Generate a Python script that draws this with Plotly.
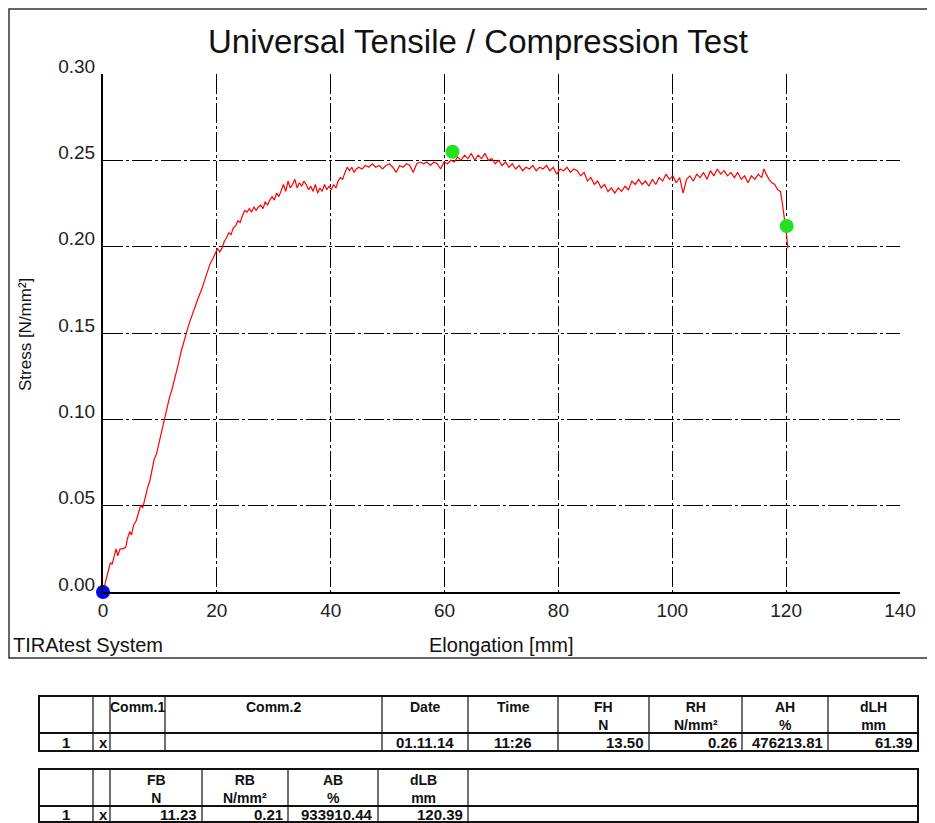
import plotly.graph_objects as go

# ---------------- data ----------------
elongation = [
    0.0, 0.5, 1.0, 1.3, 1.6, 2.0, 2.3, 2.6, 3.0, 3.5, 4.0, 4.3, 4.7, 5.0, 5.4, 5.8, 6.2, 6.6, 7.0, 7.4,
    7.8, 8.2, 8.6, 9.0, 9.4, 9.8, 10.2, 10.6, 10.9, 11.3, 11.7, 12.1, 12.5, 12.9, 13.3, 13.7, 14.1, 14.5, 14.9, 15.3,
    15.8, 16.3, 16.8, 17.3, 17.8, 18.3, 18.8, 19.3, 19.7, 20.1, 20.5, 20.9, 21.3, 21.7, 22.1, 22.5, 22.9, 23.3, 23.7, 24.1,
    24.5, 24.9, 25.3, 25.7, 26.1, 26.5, 26.9, 27.3, 27.7, 28.1, 28.5, 28.9, 29.3, 29.7, 30.1, 30.5, 30.9, 31.3, 31.7, 32.1,
    32.5, 32.9, 33.3, 33.7, 34.1, 34.5, 34.9, 35.3, 35.7, 36.1, 36.5, 36.9, 37.3, 37.7, 38.1, 38.5, 38.9, 39.3, 39.7, 40.1,
    40.5, 40.9, 41.3, 41.7, 42.1, 42.5, 42.9, 43.3, 43.7, 44.1, 44.5, 44.9, 45.5, 46.1, 46.7, 47.3, 47.9, 48.5, 49.1, 49.7,
    50.3, 50.9, 51.5, 52.1, 52.7, 53.3, 53.9, 54.5, 55.1, 55.7, 56.3, 56.9, 57.5, 58.1, 58.7, 59.3, 59.9, 60.5, 61.1, 61.7,
    62.3, 62.9, 63.5, 64.1, 64.7, 65.3, 65.9, 66.5, 67.1, 67.7, 68.3, 68.9, 69.5, 70.1, 70.7, 71.3, 71.9, 72.5, 73.1, 73.7,
    74.3, 74.9, 75.5, 76.1, 76.7, 77.3, 77.9, 78.5, 79.1, 79.7, 80.3, 80.9, 81.5, 82.1, 82.7, 83.3, 83.9, 84.5, 85.1, 85.7,
    86.3, 86.9, 87.5, 88.1, 88.7, 89.3, 89.9, 90.5, 91.1, 91.7, 92.3, 92.9, 93.5, 94.1, 94.7, 95.3, 95.9, 96.5, 97.1, 97.7,
    98.3, 98.9, 99.5, 100.1, 100.7, 101.3, 101.9, 102.5, 103.1, 103.7, 104.3, 104.9, 105.5, 106.1, 106.7, 107.3, 107.9, 108.5, 109.1, 109.7,
    110.3, 110.9, 111.5, 112.1, 112.7, 113.3, 113.9, 114.5, 115.1, 115.7, 116.1, 116.5, 117.0, 117.5, 118.0, 118.5, 119.0, 119.3, 119.6, 119.9,
    120.1, 120.3,
]
stress = [
    0.000, 0.006, 0.012, 0.017, 0.016, 0.022, 0.025, 0.021, 0.025, 0.025, 0.026, 0.031, 0.035, 0.033, 0.039, 0.041, 0.046, 0.050, 0.049, 0.055,
    0.060, 0.064, 0.071, 0.077, 0.080, 0.086, 0.090, 0.097, 0.101, 0.107, 0.113, 0.117, 0.122, 0.127, 0.133, 0.139, 0.144, 0.148, 0.153, 0.157,
    0.162, 0.166, 0.171, 0.175, 0.180, 0.185, 0.190, 0.193, 0.196, 0.199, 0.197, 0.199, 0.203, 0.205, 0.208, 0.207, 0.211, 0.212, 0.215, 0.214,
    0.218, 0.221, 0.220, 0.222, 0.220, 0.223, 0.221, 0.223, 0.224, 0.222, 0.226, 0.224, 0.227, 0.229, 0.227, 0.231, 0.229, 0.233, 0.236, 0.232,
    0.238, 0.234, 0.236, 0.239, 0.234, 0.237, 0.235, 0.238, 0.236, 0.233, 0.235, 0.232, 0.236, 0.231, 0.234, 0.232, 0.236, 0.233, 0.235, 0.233,
    0.236, 0.234, 0.238, 0.240, 0.239, 0.243, 0.246, 0.244, 0.246, 0.243, 0.245, 0.246, 0.245, 0.247, 0.246, 0.248, 0.246, 0.247, 0.245, 0.247,
    0.248, 0.246, 0.243, 0.247, 0.246, 0.248, 0.247, 0.243, 0.248, 0.249, 0.248, 0.249, 0.247, 0.249, 0.248, 0.245, 0.249, 0.248, 0.250, 0.249,
    0.252, 0.250, 0.253, 0.251, 0.254, 0.250, 0.253, 0.251, 0.254, 0.250, 0.251, 0.248, 0.250, 0.247, 0.249, 0.246, 0.248, 0.245, 0.247, 0.244,
    0.246, 0.245, 0.247, 0.244, 0.246, 0.245, 0.247, 0.244, 0.246, 0.242, 0.245, 0.244, 0.246, 0.243, 0.245, 0.244, 0.241, 0.243, 0.238, 0.240,
    0.236, 0.238, 0.234, 0.236, 0.232, 0.234, 0.231, 0.234, 0.232, 0.235, 0.233, 0.238, 0.236, 0.239, 0.236, 0.238, 0.235, 0.239, 0.236, 0.240,
    0.238, 0.242, 0.239, 0.241, 0.237, 0.240, 0.231, 0.239, 0.241, 0.238, 0.242, 0.240, 0.243, 0.239, 0.244, 0.241, 0.245, 0.242, 0.244, 0.241,
    0.243, 0.240, 0.243, 0.239, 0.241, 0.237, 0.241, 0.239, 0.242, 0.240, 0.245, 0.242, 0.239, 0.237, 0.236, 0.233, 0.232, 0.226, 0.219, 0.213,
    0.206, 0.199,
]

start_point = (0.0, 0.0)
max_point = (61.39, 0.255)
break_point = (120.1, 0.212)

x_ticks = [0, 20, 40, 60, 80, 100, 120, 140]
y_ticks = [0.00, 0.05, 0.10, 0.15, 0.20, 0.25, 0.30]
y_tick_labels = ["0.00", "0.05", "0.10", "0.15", "0.20", "0.25", "0.30"]

title_text = "Universal Tensile / Compression Test"
x_title = "Elongation [mm]"
y_title = "Stress [N/mm²]"
footer_text = "TIRAtest System"

table1_header = ["", "", "Comm.1", "Comm.2", "Date", "Time", "FH<br>N", "RH<br>N/mm²", "AH<br>%", "dLH<br>mm"]
table1_row = ["1", "x", "", "", "01.11.14", "11:26", "13.50", "0.26", "476213.81", "61.39"]
table2_header = ["", "", "FB<br>N", "RB<br>N/mm²", "AB<br>%", "dLB<br>mm", ""]
table2_row = ["1", "x", "11.23", "0.21", "933910.44", "120.39", ""]

# ---------------- layout geometry (reference pixels) ----------------
PAGE_OFF = 8            # the page body margin shifts the figure by 8 px
W, H = 935 - PAGE_OFF, 823 - PAGE_OFF
L, R, T, B = 103, 900, 74, 592
FONT = "Liberation Sans, Arial, sans-serif"


def px(xp):
    return (xp - L) / (R - L)


def py(yp):
    return (B - yp) / (B - T)


fig = go.Figure()
fig.add_trace(go.Scatter(x=elongation, y=stress, mode="lines",
                         line=dict(color="#ff0000", width=1.2), hoverinfo="skip", showlegend=False))
fig.add_trace(go.Scatter(x=[max_point[0], break_point[0]], y=[max_point[1], break_point[1]], mode="markers",
                         marker=dict(color="#22e022", size=14), cliponaxis=False, showlegend=False))
fig.add_trace(go.Scatter(x=[start_point[0]], y=[start_point[1]], mode="markers",
                         marker=dict(color="#0000ff", size=14), cliponaxis=False, showlegend=False))

grid_dash = "20px,3px,3px,3px"
fig.update_xaxes(range=[0, 140], tickvals=x_ticks, ticktext=[str(v) for v in x_ticks],
                 showgrid=True, gridcolor="#000000", gridwidth=1, griddash=grid_dash,
                 showline=True, linecolor="#000000", linewidth=2, zeroline=False,
                 ticks="", tickfont=dict(family=FONT, size=19, color="#222222"))
fig.update_yaxes(range=[0, 0.30], tickvals=y_ticks, ticktext=y_tick_labels,
                 showgrid=True, gridcolor="#000000", gridwidth=1, griddash=grid_dash,
                 showline=True, linecolor="#000000", linewidth=2, zeroline=False,
                 ticks="", ticklabelshift=-8, ticklabelstandoff=2,
                 tickfont=dict(family=FONT, size=19, color="#222222"))

shapes = []
annotations = []

# outer frame
shapes.append(dict(type="rect", xref="paper", yref="paper", x0=px(9), x1=px(945), y0=py(9), y1=py(658),
                   line=dict(color="#333333", width=1.5), layer="below"))

annotations.append(dict(text=title_text, x=px(478), y=py(41), xref="paper", yref="paper", showarrow=False,
                        xanchor="center", yanchor="middle", font=dict(family=FONT, size=33, color="#111111")))
annotations.append(dict(text=x_title, x=px(501), y=py(645), xref="paper", yref="paper", showarrow=False,
                        xanchor="center", yanchor="middle", font=dict(family=FONT, size=20, color="#111111")))
annotations.append(dict(text=footer_text, x=px(11), y=py(645), xref="paper", yref="paper", showarrow=False,
                        xanchor="left", yanchor="middle", font=dict(family=FONT, size=20, color="#111111")))
annotations.append(dict(text=y_title, x=px(25), y=py(335), xref="paper", yref="paper", showarrow=False,
                        textangle=-90, xanchor="center", yanchor="middle",
                        font=dict(family=FONT, size=17, color="#111111")))


def draw_table(cols, top, mid, bottom, header, row, align):
    left, right = cols[0], cols[-1]
    shapes.append(dict(type="rect", xref="paper", yref="paper", x0=px(left), x1=px(right),
                       y0=py(top), y1=py(bottom), line=dict(color="#111111", width=2)))
    shapes.append(dict(type="line", xref="paper", yref="paper", x0=px(left), x1=px(right),
                       y0=py(mid), y1=py(mid), line=dict(color="#111111", width=2)))
    for c in cols[1:-1]:
        shapes.append(dict(type="line", xref="paper", yref="paper", x0=px(c), x1=px(c),
                           y0=py(top), y1=py(bottom), line=dict(color="#111111", width=1.2)))
    for i, (h, v) in enumerate(zip(header, row)):
        c0, c1 = cols[i], cols[i + 1]
        if h:
            annotations.append(dict(text="<b>" + h + "</b>", x=px((c0 + c1) / 2), y=py(top + 1),
                                    xref="paper", yref="paper", showarrow=False, xanchor="center", yanchor="top",
                                    font=dict(family=FONT, size=14, color="#111111")))
        if v:
            a = align[i]
            if a == "right":
                xx, xa = c1 - 3, "right"
            elif a == "left":
                xx, xa = c0 + 4, "left"
            else:
                xx, xa = (c0 + c1) / 2, "center"
            annotations.append(dict(text="<b>" + v + "</b>", x=px(xx), y=py((mid + bottom) / 2 + 0.5),
                                    xref="paper", yref="paper", showarrow=False, xanchor=xa, yanchor="middle",
                                    font=dict(family=FONT, size=15, color="#111111")))


t1_cols = [39, 93, 110, 165, 382, 468, 558, 649, 742, 828, 918]
t1_align = ["center", "left", "left", "left", "center", "center", "right", "right", "right", "right"]
draw_table(t1_cols, 696, 733, 751, table1_header, table1_row, t1_align)

t2_cols = [39, 93, 110, 202, 288, 378, 468, 918]
t2_align = ["center", "left", "right", "right", "right", "right", "left"]
draw_table(t2_cols, 769, 806, 822, table2_header, table2_row, t2_align)

fig.update_layout(width=W, height=H,
                  margin=dict(l=L - PAGE_OFF, r=W - (R - PAGE_OFF), t=T - PAGE_OFF, b=H - (B - PAGE_OFF)),
                  paper_bgcolor="#ffffff", plot_bgcolor="#ffffff", showlegend=False,
                  shapes=shapes, annotations=annotations)

fig.write_html("out.html")
